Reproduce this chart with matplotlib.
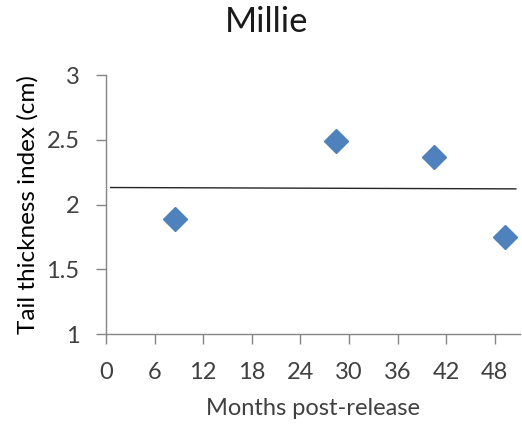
import numpy as np
import matplotlib.pyplot as plt

plt.rcParams['font.family'] = ['Lato', 'DejaVu Sans']

months = [8.5, 28.4, 40.5, 49.3]
thickness = [1.89, 2.49, 2.37, 1.75]
x_ticks = [0, 6, 12, 18, 24, 30, 36, 42, 48]
y_ticks = [1, 1.5, 2, 2.5, 3]
y_labels = ['1', '1.5', '2', '2.5', '3']

text_color = '#404040'
axis_color = '#868686'

fig = plt.figure(figsize=(5.22, 4.29), dpi=100)
ax = fig.add_axes([0.203, 0.2214, 0.793, 0.6036])

# linear trend line over the data
slope, intercept = np.polyfit(months, thickness, 1)
trend_x = np.array([0.58, 50.6])
ax.plot(trend_x, slope * trend_x + intercept, color='#262626', lw=1.0, zorder=2)

ax.plot(months, thickness, linestyle='none', marker='D', markersize=12,
        color='#4F81BD', markeredgecolor='#4F81BD', zorder=3)

ax.set_xlim(0, 51.1)
ax.set_ylim(1, 3)
ax.set_xticks(x_ticks)
ax.set_yticks(y_ticks)
ax.set_yticklabels(y_labels)

for side in ['top', 'right']:
    ax.spines[side].set_visible(False)
for side in ['left', 'bottom']:
    ax.spines[side].set_color(axis_color)
    ax.spines[side].set_linewidth(1.0)

ax.tick_params(axis='both', direction='out', length=7, width=1.0,
               color=axis_color, labelcolor=text_color, labelsize=17)
ax.tick_params(axis='x', pad=13)
ax.tick_params(axis='y', pad=12)

ax.set_xlabel('Months post-release', fontsize=17, color=text_color, labelpad=11)
ax.set_ylabel('Tail thickness index (cm)', fontsize=17.5, color='black', labelpad=6)
fig.text(0.51, 0.948, 'Millie', ha='center', va='center', fontsize=25, color='#1a1a1a')

fig.savefig('out.png', dpi=100)
